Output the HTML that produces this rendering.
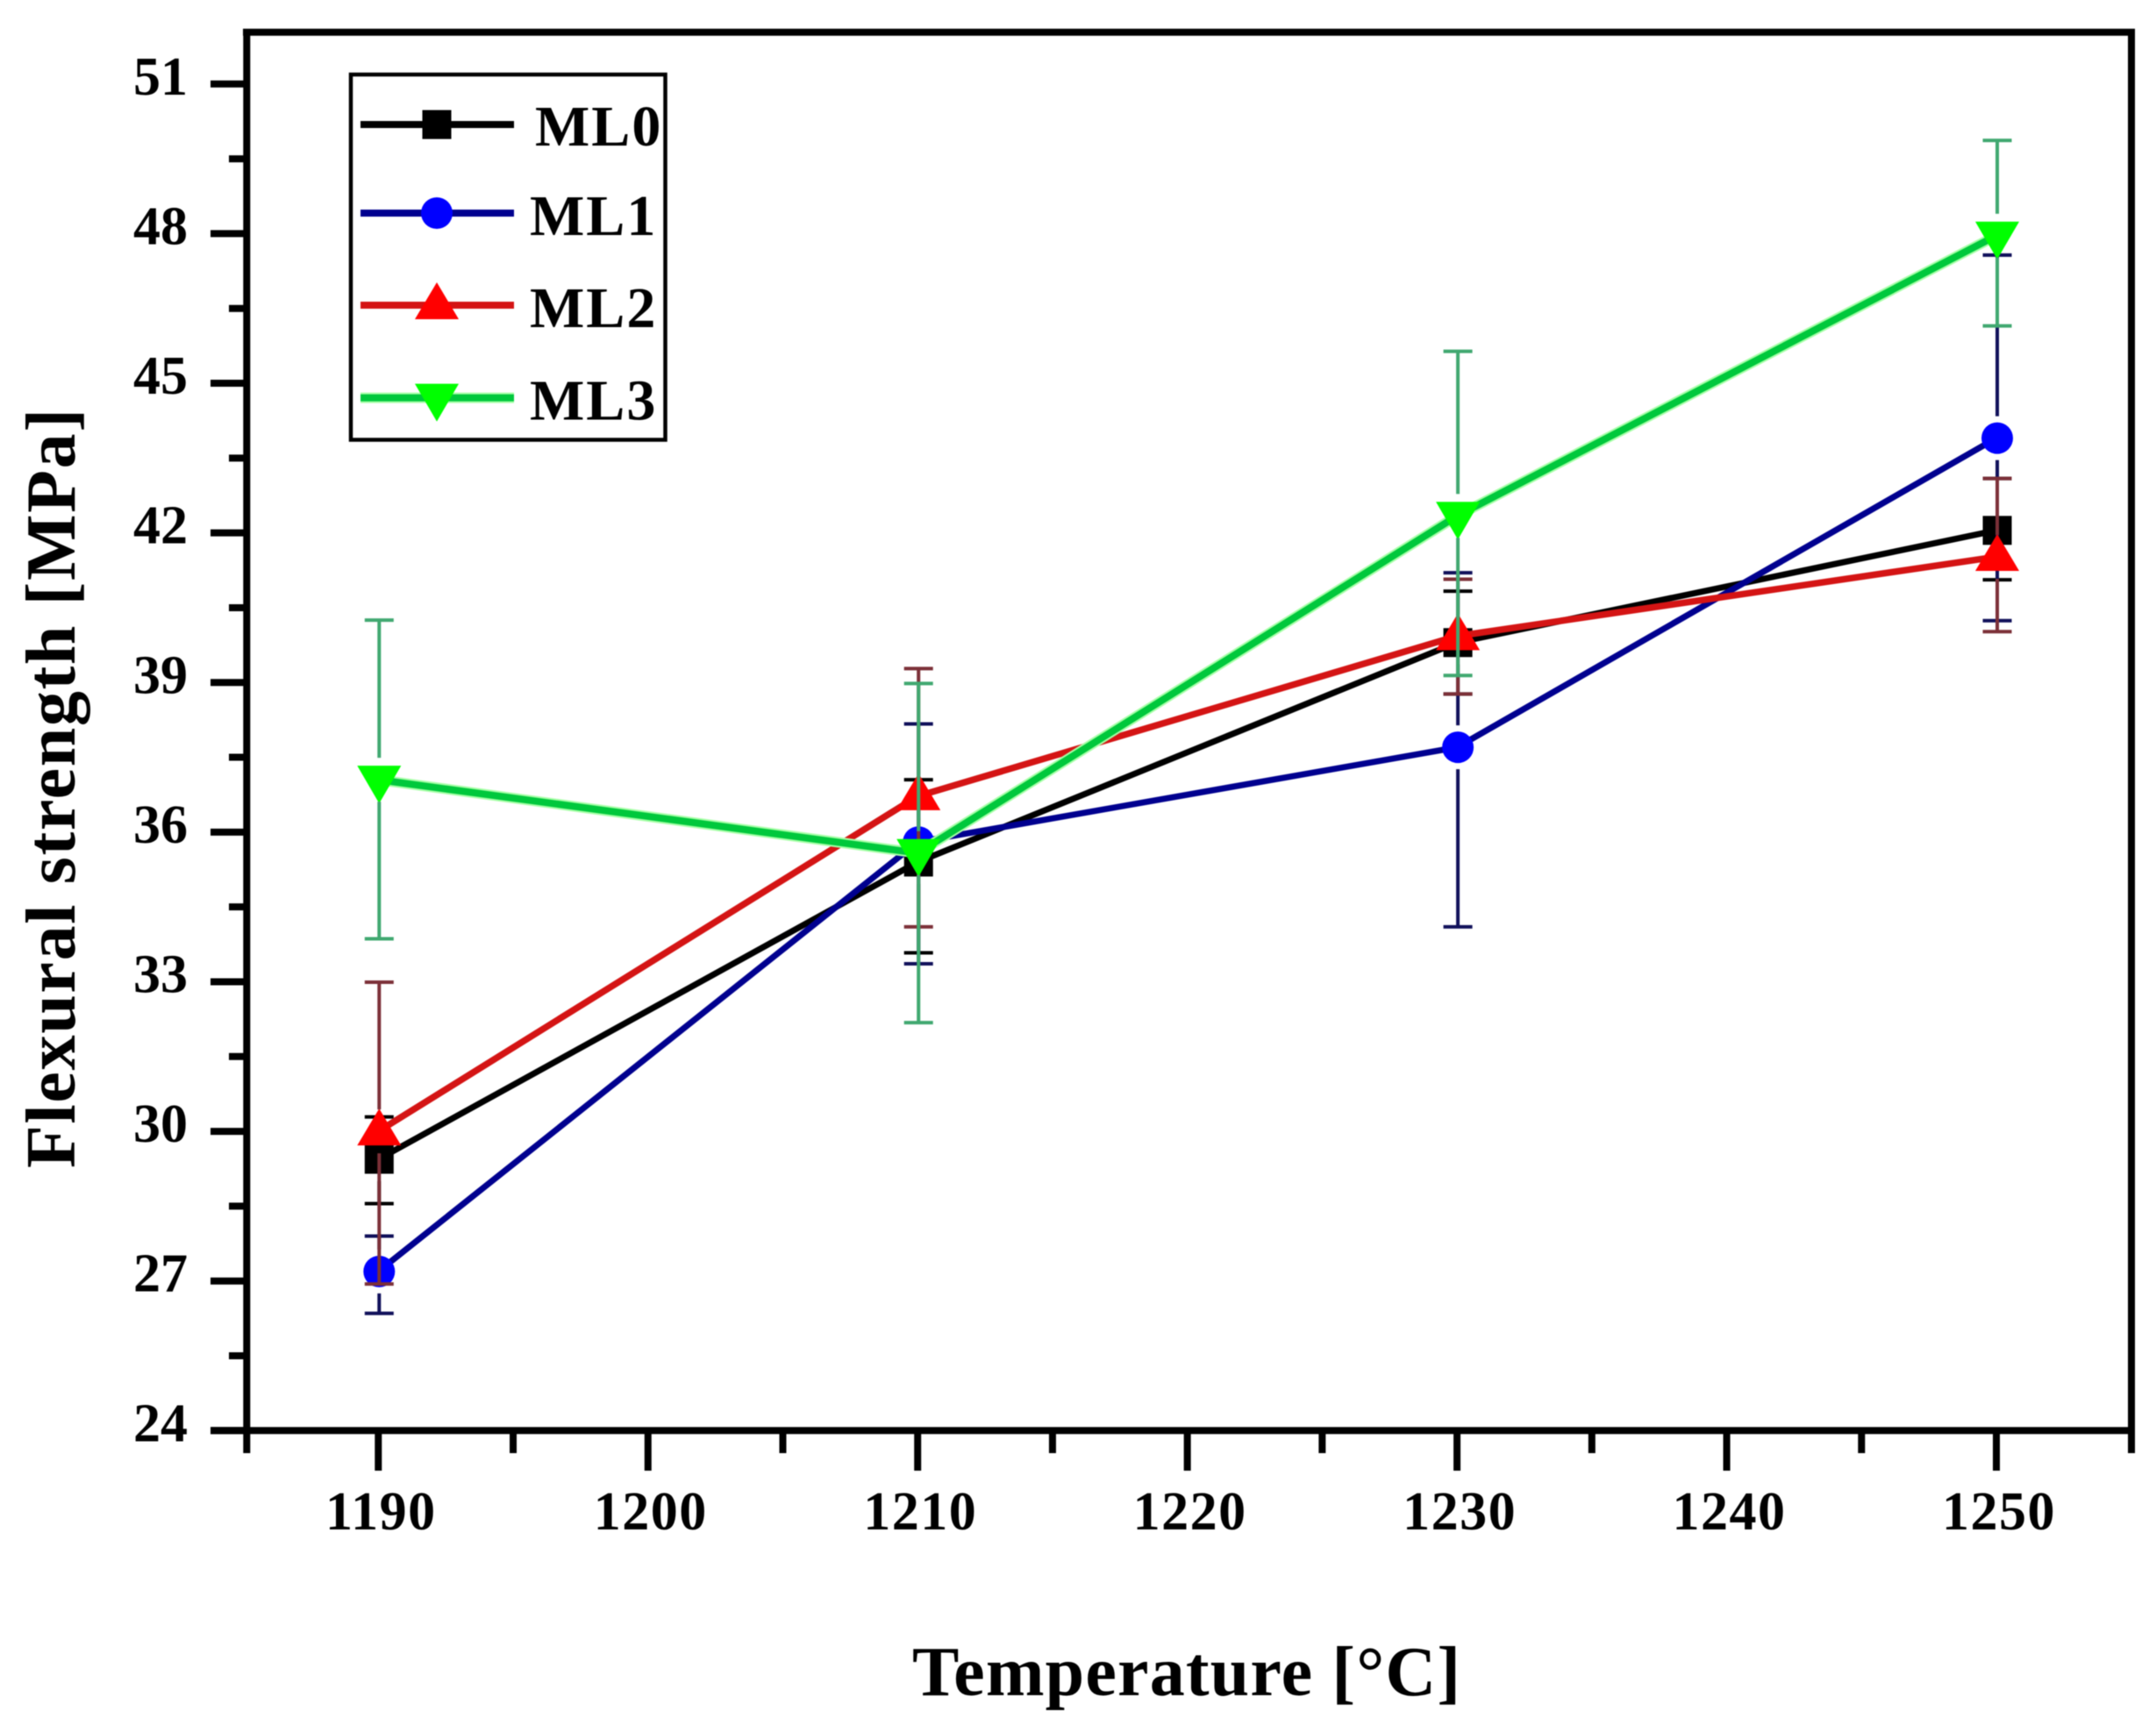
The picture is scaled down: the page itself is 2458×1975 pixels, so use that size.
<!DOCTYPE html>
<html lang="en">
<head>
<meta charset="utf-8">
<title>Flexural strength vs Temperature</title>
<style>
html,body{margin:0;padding:0;background:#fff;}
svg{display:block;filter:blur(0.6px);}
text{font-family:"Liberation Serif",serif;font-weight:bold;fill:#000;}
.tick{font-size:62px;}
.xtick{letter-spacing:1.5px;}
.leg{font-size:66px;letter-spacing:2px;}
.title{font-size:80px;}
</style>
</head>
<body>
<svg id="chart" xmlns="http://www.w3.org/2000/svg" width="2458" height="1975" viewBox="0 0 2458 1975">
  <rect x="0" y="0" width="2458" height="1975" fill="#fff"/>
  <g id="series-layer"></g>
  <g id="axes-layer"></g>
  <text class="title" x="1040" y="1933" textLength="625" lengthAdjust="spacing">Temperature [°C]</text>
  <text class="title" transform="translate(85,1332) rotate(-90)" x="0" y="0" textLength="866" lengthAdjust="spacing">Flexural strength [MPa]</text>
  <g id="legend">
    <rect x="400" y="85" width="358.5" height="416.5" fill="#fff" stroke="#000" stroke-width="4.5"/>
  </g>
</svg>
<script>
const categories = [1190, 1210, 1230, 1250];
const seriesNames = ['ML0', 'ML1', 'ML2', 'ML3'];
const ml0Values = [29.44, 35.4, 39.8, 42.05];
const ml0Upper = [30.29, 37.05, 40.83, 43.09];
const ml0Lower = [28.55, 33.58, 38.77, 41.06];
const ml1Values = [27.19, 35.8, 37.7, 43.9];
const ml1Upper = [27.9, 38.17, 41.2, 47.57];
const ml1Lower = [26.35, 33.36, 34.1, 40.24];
const ml2Values = [30.0, 36.72, 39.93, 41.52];
const ml2Upper = [32.99, 39.28, 41.07, 43.09];
const ml2Lower = [26.94, 34.1, 38.77, 40.02];
const ml3Values = [37.05, 35.58, 42.34, 47.96];
const ml3Upper = [40.25, 38.98, 45.64, 49.87];
const ml3Lower = [33.86, 32.18, 39.14, 46.15];
const xMajorTicks = [1190, 1200, 1210, 1220, 1230, 1240, 1250];
const xMinorTicks = [1195, 1205, 1215, 1225, 1235, 1245];
const yMajorTicks = [24, 27, 30, 33, 36, 39, 42, 45, 48, 51];
const yMinorTicks = [25.5, 28.5, 31.5, 34.5, 37.5, 40.5, 43.5, 46.5, 49.5];

const NS = 'http://www.w3.org/2000/svg';
function xPos(v) { return 431.3 + (v - 1190) * 30.745; }
function yPos(v) { return 1631.3 - (v - 24) * 56.87; }

function make(parent, tag, attrs) {
  const el = document.createElementNS(NS, tag);
  for (const k in attrs) el.setAttribute(k, attrs[k]);
  parent.appendChild(el);
  return el;
}

function drawMarker(parent, kind, cx, cy, fill, label) {
  let el;
  if (kind === 'square') {
    el = make(parent, 'rect', { x: cx - 16.5, y: cy - 16.5, width: 33, height: 33, fill: fill });
  } else if (kind === 'circle') {
    el = make(parent, 'circle', { cx: cx, cy: cy, r: 18, fill: fill });
  } else if (kind === 'up') {
    el = make(parent, 'path', { d: 'M' + cx + ' ' + (cy - 26) + 'L' + (cx + 25) + ' ' + (cy + 16) + 'L' + (cx - 25) + ' ' + (cy + 16) + 'Z', fill: fill });
  } else {
    el = make(parent, 'path', { d: 'M' + cx + ' ' + (cy + 27) + 'L' + (cx + 25) + ' ' + (cy - 16) + 'L' + (cx - 25) + ' ' + (cy - 16) + 'Z', fill: fill });
  }
  
  
  return el;
}

const axes = document.getElementById('axes-layer');

function spine(label, x1, y1, x2, y2) {
  const el = make(axes, 'line', { x1: x1, y1: y1, x2: x2, y2: y2, stroke: '#000', 'stroke-width': 8 });
  
  
}
spine('axis-left', 281.3, 33, 281.3, 1657);
spine('axis-right', 2430, 33, 2430, 1657);
spine('axis-top', 277, 36.7, 2434, 36.7);
spine('axis-bottom', 240, 1631.3, 2434, 1631.3);

xMajorTicks.forEach(function (v) {
  const t = make(axes, 'line', { x1: xPos(v), y1: 1631, x2: xPos(v), y2: 1677, stroke: '#000', 'stroke-width': 8 });
  
  
  const l = make(axes, 'text', { x: xPos(v) + 3, y: 1744, 'text-anchor': 'middle', class: 'tick xtick' });
  l.textContent = String(v);
  
  
});
xMinorTicks.forEach(function (v) {
  const t = make(axes, 'line', { x1: xPos(v), y1: 1631, x2: xPos(v), y2: 1657, stroke: '#000', 'stroke-width': 8 });
  
  
});
yMajorTicks.forEach(function (v) {
  const t = make(axes, 'line', { x1: 240, y1: yPos(v), x2: 282, y2: yPos(v), stroke: '#000', 'stroke-width': 8 });
  
  
  const l = make(axes, 'text', { x: 214, y: yPos(v) + 12, 'text-anchor': 'end', class: 'tick' });
  l.textContent = String(v);
  
  
});
yMinorTicks.forEach(function (v) {
  const t = make(axes, 'line', { x1: 261, y1: yPos(v), x2: 282, y2: yPos(v), stroke: '#000', 'stroke-width': 8 });
  
  
});

const seriesDefs = [
  { name: seriesNames[0], values: ml0Values, upper: ml0Upper, lower: ml0Lower, line: '#000000', halo: null, marker: '#000000', err: '#000000', kind: 'square', width: 7 },
  { name: seriesNames[1], values: ml1Values, upper: ml1Upper, lower: ml1Lower, line: '#00008f', halo: null, marker: '#0000ff', err: '#10105a', kind: 'circle', width: 7 },
  { name: seriesNames[2], values: ml2Values, upper: ml2Upper, lower: ml2Lower, line: '#d41414', halo: null, marker: '#ff0000', err: '#7c3038', kind: 'up', width: 7.5 },
  { name: seriesNames[3], values: ml3Values, upper: ml3Upper, lower: ml3Lower, line: '#00c83c', halo: '#a8ffa8', marker: '#00ff00', err: '#40a870', kind: 'down', width: 8 }
];

const layer = document.getElementById('series-layer');
const GAP = 25;
seriesDefs.forEach(function (s) {
  const g = make(layer, 'g', {});
  
  
  const pts = categories.map(function (c, i) { return xPos(c) + ',' + yPos(s.values[i]); }).join(' ');
  if (s.halo) {
    make(g, 'polyline', { points: pts, fill: 'none', stroke: s.halo, 'stroke-width': s.width + 4 });
  }
  const ln = make(g, 'polyline', { points: pts, fill: 'none', stroke: s.line, 'stroke-width': s.width, 'stroke-linejoin': 'round' });
  
  
  categories.forEach(function (c, i) {
    drawMarker(g, s.kind, xPos(c) + 1, yPos(s.values[i]), s.marker, 'point-' + s.name.toLowerCase() + '-' + c);
  });
  categories.forEach(function (c, i) {
    const x = xPos(c) + 1;
    const yv = yPos(s.values[i]);
    const yu = yPos(s.upper[i]);
    const yl = yPos(s.lower[i]);
    const d = 'M' + x + ' ' + Math.max(yv - GAP, yu) + 'L' + x + ' ' + yu +
      'M' + (x - 16.5) + ' ' + yu + 'L' + (x + 16.5) + ' ' + yu +
      'M' + x + ' ' + Math.min(yv + GAP, yl) + 'L' + x + ' ' + yl +
      'M' + (x - 16.5) + ' ' + yl + 'L' + (x + 16.5) + ' ' + yl;
    const e = make(g, 'path', { d: d, fill: 'none', stroke: s.err, 'stroke-width': 4 });
    
    
  });
});

const legend = document.getElementById('legend');
const legendY = [142, 243, 348, 453.6];
const legendTextX = [610, 604, 604, 604];
const legendTextY = [166, 268, 373, 478.6];
seriesDefs.forEach(function (s, i) {
  const g = make(legend, 'g', {});
  
  
  if (s.halo) {
    make(g, 'line', { x1: 411, y1: legendY[i], x2: 586, y2: legendY[i], stroke: s.halo, 'stroke-width': 12 });
  }
  make(g, 'line', { x1: 411, y1: legendY[i], x2: 586, y2: legendY[i], stroke: s.line, 'stroke-width': 8 });
  drawMarker(g, s.kind, 498, legendY[i], s.marker, 'legend-marker-' + s.name.toLowerCase());
  const t = make(g, 'text', { x: legendTextX[i], y: legendTextY[i], class: 'leg' });
  t.textContent = s.name;
  
  
});
</script>
</body>
</html>
